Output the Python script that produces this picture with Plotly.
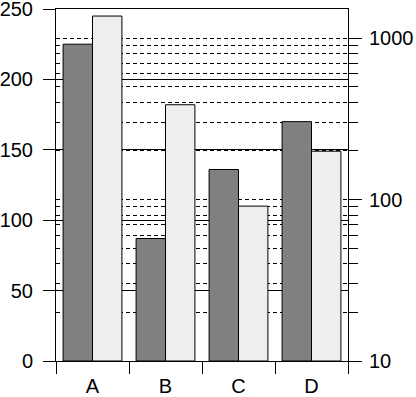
import plotly.graph_objects as go

categories = ["A", "B", "C", "D"]
series_dark = [225, 87, 136, 170]
series_light = [245, 182, 110, 149]
left_ticks = [0, 50, 100, 150, 200, 250]
right_major = [10, 100, 1000]
right_minor = [20, 30, 40, 50, 60, 70, 80, 90, 200, 300, 400, 500, 600, 700, 800, 900]

font = dict(family="Liberation Sans, Arial, sans-serif", size=20, color="black")

fig = go.Figure()
fig.add_trace(go.Bar(x=categories, y=series_dark, marker=dict(color="#808080", line=dict(color="black", width=1)), showlegend=False))
fig.add_trace(go.Bar(x=categories, y=series_light, marker=dict(color="#eeeeee", line=dict(color="black", width=1)), showlegend=False))
fig.add_trace(go.Scatter(x=categories, y=[None] * len(categories), yaxis="y2", mode="lines", showlegend=False, hoverinfo="skip"))

fig.update_layout(
    width=416, height=397,
    margin=dict(l=56, r=68, t=9, b=36, autoexpand=False),
    paper_bgcolor="white", plot_bgcolor="white",
    font=font,
    barmode="group", bargap=0.194, bargroupgap=0,
    xaxis=dict(type="category", tickson="boundaries", ticks="outside", ticklen=12, tickcolor="black",
               showline=True, linecolor="black", linewidth=1, mirror=True, showgrid=False, tickfont=font,
               automargin=False, ticklabelstandoff=7),
    yaxis=dict(range=[0, 250], tickvals=left_ticks, ticks="outside", ticklen=12, tickcolor="black",
               showline=True, linecolor="black", linewidth=1, showgrid=True, gridcolor="black", gridwidth=1,
               zeroline=False, tickfont=font, automargin=False, ticklabeloverflow="allow",
               ticklabelstandoff=6),
    yaxis2=dict(type="log", range=[1, 3.1797], overlaying="y", side="right", tickvals=right_major,
                ticktext=[str(v) for v in right_major], ticks="outside", ticklen=13, tickcolor="black",
                showline=True, linecolor="black", linewidth=1, showgrid=True, gridcolor="black", gridwidth=1,
                griddash="4px,3px", zeroline=False, tickfont=font, automargin=False, ticklabeloverflow="allow",
                ticklabelstandoff=3,
                minor=dict(tickvals=right_minor, ticks="outside", ticklen=9, tickcolor="black",
                           showgrid=True, gridcolor="black", gridwidth=1, griddash="4px,3px")),
)

# remove the page's default 8px body margin so the figure sits at the window's corner
fig.write_html("out.html", post_script="document.body.style.margin='0';",
               config={"displayModeBar": False})
